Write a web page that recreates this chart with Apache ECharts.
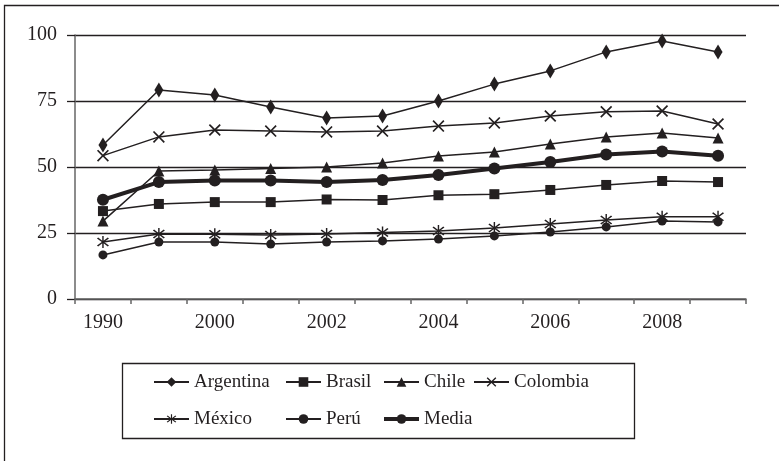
<!DOCTYPE html>
<html>
<head>
<meta charset="utf-8">
<script src="https://cdn.jsdelivr.net/npm/echarts@6/dist/echarts.min.js"></script>
<style>
  html, body { margin: 0; padding: 0; background: #fff; }
  #chart { width: 779px; height: 461px; }
</style>
</head>
<body>
<div id="chart"></div>
<script>
// data
var years = ['1990', '1999', '2000', '2001', '2002', '2003', '2004', '2005', '2006', '2007', '2008', '2009']
var yTicks = [0, 25, 50, 75, 100]

var argentina = [58.3, 79.2, 77.3, 72.7, 68.6, 69.3, 75.0, 81.4, 86.4, 93.6, 97.7, 93.6]
var brasil = [33.3, 36.0, 36.7, 36.7, 37.7, 37.5, 39.3, 39.7, 41.3, 43.2, 44.7, 44.3]
var chile = [29.5, 48.5, 48.9, 49.4, 50.0, 51.5, 54.2, 55.7, 58.7, 61.4, 62.9, 61.0]
var colombia = [54.3, 61.4, 64.0, 63.6, 63.3, 63.6, 65.5, 66.7, 69.3, 70.9, 71.2, 66.3]
var mexico = [21.6, 24.6, 24.5, 24.2, 24.6, 25.2, 25.8, 26.9, 28.4, 29.9, 31.2, 31.2]
var peru = [16.7, 21.6, 21.6, 20.8, 21.6, 22.0, 22.7, 23.9, 25.4, 27.3, 29.5, 29.2]
var media = [37.6, 44.3, 44.9, 44.9, 44.3, 45.1, 47.0, 49.4, 51.9, 54.7, 55.9, 54.3]

var ink = '#231f20'
var font = "'Liberation Serif', 'Times New Roman', serif"

var xPath = 'path://M0,1L1,0L5,4L9,0L10,1L6,5L10,9L9,10L5,6L1,10L0,9L4,5Z'
var starPath = 'path://M0,1.5L1,0.5L5,4.3L9,0.5L10,1.5L6,5L10,8.5L9,9.5L5,5.7L1,9.5L0,8.5L4,5Z' +
  'M4.4,-1L5.6,-1L5.6,11L4.4,11Z'

function makeSeries (name, data, symbol, size, width) {
  return {
    name: name,
    type: 'line',
    data: data,
    symbol: symbol,
    symbolSize: size,
    showAllSymbol: true,
    lineStyle: { color: ink, width: width || 1.5 },
    itemStyle: { color: ink, borderWidth: 0 },
    emphasis: { disabled: true },
    animation: false
  }
}

function makeLegend (left, names) {
  return {
    orient: 'vertical',
    left: left,
    top: 372,
    itemWidth: 35,
    itemHeight: 12,
    itemGap: 17,
    padding: 0,
    selectedMode: false,
    data: names,
    textStyle: { fontFamily: font, fontSize: 19, color: ink, lineHeight: 20 }
  }
}

var option = {
  backgroundColor: '#fff',
  animation: false,
  textStyle: { fontFamily: font },
  grid: { left: 75, right: 33, top: 35, bottom: 162 },
  graphic: [
    {
      type: 'rect',
      shape: { x: 4.5, y: 5.5, width: 800, height: 500 },
      style: { fill: 'none', stroke: ink, lineWidth: 1.3 },
      silent: true
    },
    {
      type: 'rect',
      shape: { x: 122.5, y: 363.5, width: 512, height: 75 },
      style: { fill: 'none', stroke: ink, lineWidth: 1.3 },
      silent: true
    }
  ],
  legend: [
    makeLegend(153, ['Argentina', 'México']),
    makeLegend(285, ['Brasil', 'Perú']),
    makeLegend(382, ['Chile', { name: 'Media', lineStyle: { width: 4 } }]),
    makeLegend(473, ['Colombia'])
  ],
  xAxis: {
    type: 'category',
    data: years,
    boundaryGap: true,
    axisLine: { lineStyle: { color: '#666', width: 1.5 } },
    axisTick: { show: true, length: 5, interval: 0, lineStyle: { color: '#666', width: 1.5 } },
    axisLabel: {
      interval: 1,
      margin: 14,
      fontFamily: font,
      fontSize: 20,
      color: ink
    },
    splitLine: { show: false }
  },
  yAxis: {
    type: 'value',
    min: yTicks[0],
    max: yTicks[yTicks.length - 1],
    interval: 25,
    axisLine: { show: true, lineStyle: { color: '#666', width: 1.5 } },
    axisTick: { show: true, length: 8, lineStyle: { color: ink, width: 1.3 } },
    axisLabel: {
      margin: 18,
      fontFamily: font,
      fontSize: 20,
      color: ink
    },
    splitLine: { show: true, lineStyle: { color: ink, width: 1.3 } }
  },
  series: [
    makeSeries('Argentina', argentina, 'diamond', [9, 15]),
    makeSeries('Brasil', brasil, 'rect', 10),
    makeSeries('Chile', chile, 'triangle', 11),
    makeSeries('Colombia', colombia, xPath, 12),
    makeSeries('México', mexico, starPath, 12),
    makeSeries('Perú', peru, 'circle', 9),
    makeSeries('Media', media, 'circle', 12, 4)
  ]
}

var myChart = echarts.init(document.getElementById('chart'), null, { renderer: 'canvas' })
myChart.setOption(option)
</script>
</body>
</html>
